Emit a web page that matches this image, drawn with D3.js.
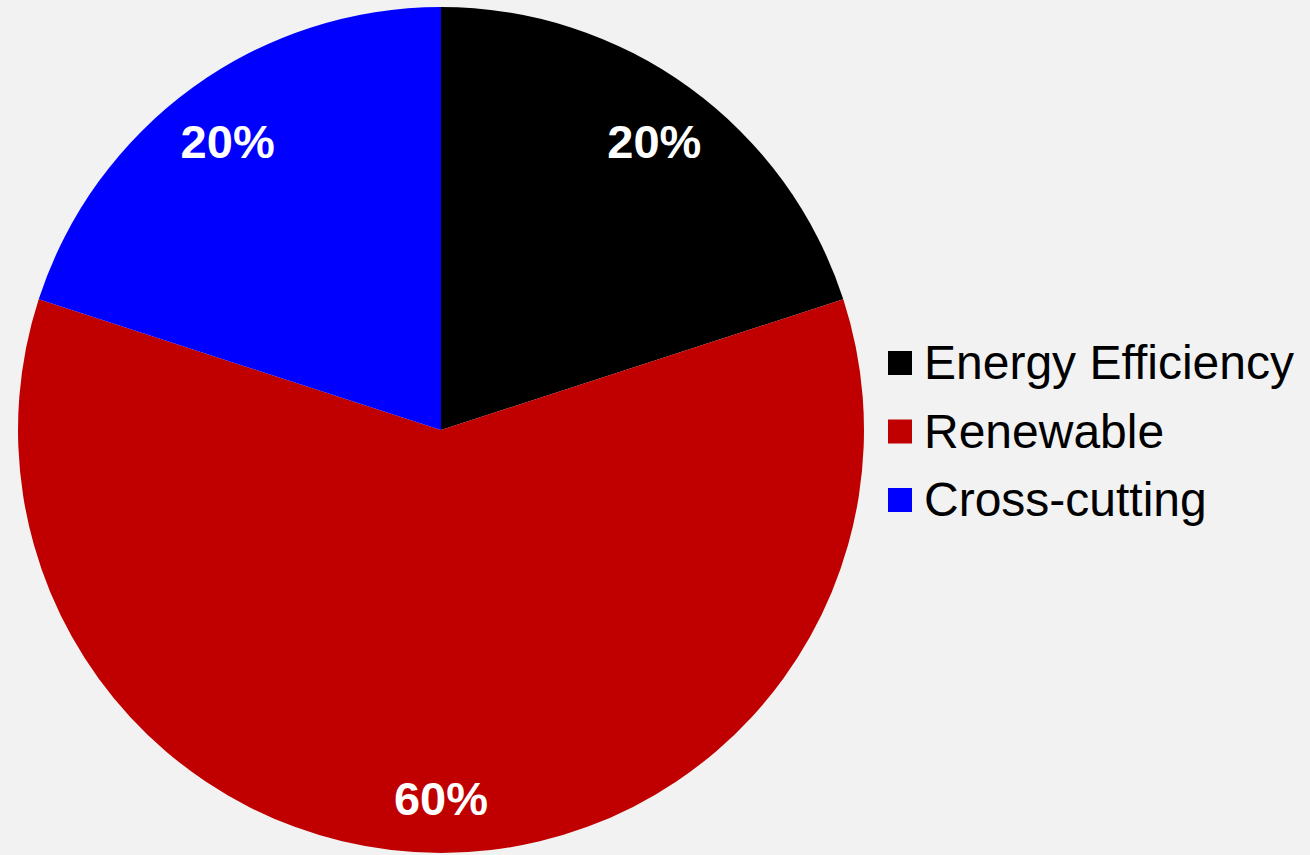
<!doctype html>
<html>
<head>
  <meta charset="UTF-8">
  <title>pie</title>
  <style type="text/css">
    html, body { margin: 0; padding: 0; background: #f2f2f2; }
    svg { display: block; }
    .legend text { font-family: "Liberation Sans", Arial, sans-serif; font-size: 48px; fill: #000; }
    .slice-label { font-family: "Liberation Sans", Arial, sans-serif; font-size: 47px; font-weight: bold; fill: #fff; }
  </style>
  <script src="https://cdn.jsdelivr.net/npm/d3@7/dist/d3.min.js"></script>
</head>
<body>
  <div id="chart"></div>
  <script>
    var categories = ["Energy Efficiency", "Renewable", "Cross-cutting"];
    var shares = [20, 60, 20];
    var colors = ["#000000", "#c00000", "#0000ff"];

    var w = 1310,
      h = 855,
      cx = 441,
      cy = 430,
      radius = 423;

    var svg = d3.select("#chart").append("svg")
      .attr("width", w)
      .attr("height", h);

    svg.append("rect")
      .attr("width", w)
      .attr("height", h)
      .attr("fill", "#f2f2f2");

    var data = categories.map(function(c, i) { return { name: c, value: shares[i], color: colors[i] }; });

    var pie = d3.pie()
      .sort(null)
      .value(function(d) { return d.value; });

    var arc = d3.arc().innerRadius(0).outerRadius(radius);
    var labelArc = d3.arc().innerRadius(363).outerRadius(363);

    var g = svg.append("g").attr("transform", "translate(" + cx + "," + cy + ")");

    var arcs = pie(data);

    g.selectAll("path")
      .data(arcs)
      .enter().append("path")
      .attr("d", arc)
      .attr("fill", function(d) { return d.data.color; });

    // labels sit a few px under the radial point, like the original
    g.selectAll(".slice-label")
      .data(arcs)
      .enter().append("text")
      .attr("class", "slice-label")
      .attr("transform", function(d) {
        var c = labelArc.centroid(d);
        return "translate(" + c[0] + "," + (c[1] + 5) + ")";
      })
      .attr("text-anchor", "middle")
      .attr("dy", "0.36em")
      .text(function(d) { return d.data.value + "%"; });

    // legend
    var legend = svg.append("g")
      .attr("class", "legend")
      .attr("transform", "translate(888, 351)");

    var item = legend.selectAll("g")
      .data(data)
      .enter().append("g")
      .attr("transform", function(d, i) { return "translate(0," + (i * 68.5) + ")"; });

    item.append("rect")
      .attr("width", 24)
      .attr("height", 24)
      .attr("fill", function(d) { return d.color; });

    item.append("text")
      .attr("x", 36)
      .attr("y", 28)
      .text(function(d) { return d.name; });
  </script>
</body>
</html>
